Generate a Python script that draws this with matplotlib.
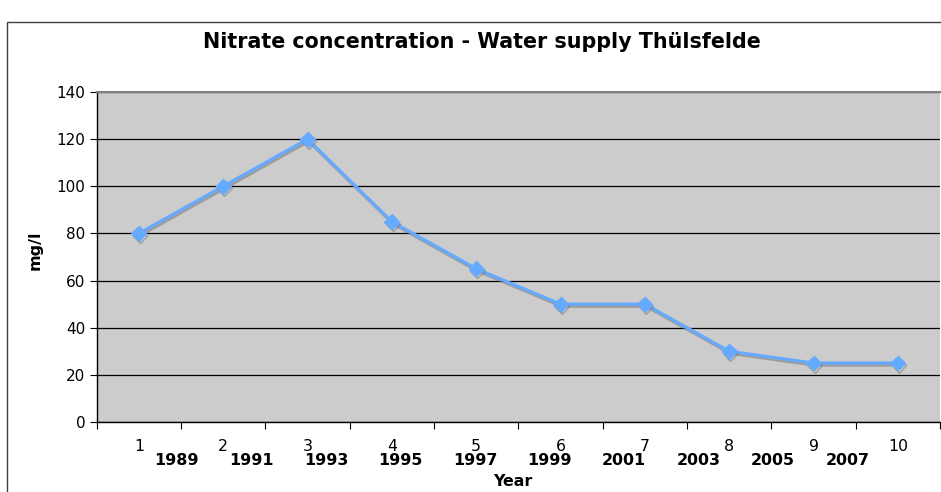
import matplotlib
matplotlib.use("Agg")
import matplotlib.pyplot as plt
import matplotlib.patheffects as pe
from matplotlib.patches import Rectangle
from matplotlib.transforms import blended_transform_factory

plt.rcParams["font.family"] = ["DejaVu Sans"]

# data
categories = [1, 2, 3, 4, 5, 6, 7, 8, 9, 10]
nitrate = [80, 100, 120, 85, 65, 50, 50, 30, 25, 25]
years = ["1989", "1991", "1993", "1995", "1997", "1999", "2001", "2003", "2005", "2007"]

W, H = 941, 492
fig = plt.figure(figsize=(W / 100, H / 100), dpi=100)

# chart-area frame (runs off the right and bottom of the picture)
fig.patches.append(Rectangle((7 / W, -0.05), 1.1, 1 - 22 / H + 0.05,
                             transform=fig.transFigure, fill=False,
                             edgecolor="#404040", lw=1.0))

ax = fig.add_axes([96.7 / W, 70 / H, (940 - 96.7) / W, 330 / H])
ax.set_facecolor("#cccccc")

ax.plot(categories, nitrate, color="#66aaff", lw=2.3, marker="D", ms=7.5,
        solid_joinstyle="miter", zorder=3,
        path_effects=[pe.SimpleLineShadow(offset=(0.8, -1.5), shadow_color="#777777",
                                          alpha=0.55), pe.Normal()])

ax.set_xlim(0.5, len(categories) + 0.5)
ax.set_ylim(0, 140)
ax.set_yticks(range(0, 141, 20))
ax.grid(axis="y", color="black", lw=0.9)
ax.set_axisbelow(True)

# category axis: ticks on the boundaries, labels in the middle
ax.set_xticks([c - 0.5 for c in categories] + [categories[-1] + 0.5])
ax.set_xticklabels([])
ax.set_xticks(categories, minor=True)
ax.set_xticklabels([str(c) for c in categories], minor=True, fontsize=11.3)
ax.tick_params(axis="x", which="major", direction="out", length=5, width=0.8)
ax.tick_params(axis="x", which="minor", length=0, pad=12)
ax.tick_params(axis="y", direction="out", length=5, width=0.8, labelsize=11, pad=3)

for s in ["left", "bottom"]:
    ax.spines[s].set_color("black")
    ax.spines[s].set_linewidth(1.0)
ax.spines["top"].set_color("#808080")
ax.spines["top"].set_linewidth(1.5)
ax.spines["right"].set_visible(False)

# year labels typed under the category numbers
tr = blended_transform_factory(ax.transData, ax.transAxes)
for i, y in enumerate(years):
    ax.text(1.45 + 0.884 * i, -0.118, y, transform=tr, ha="center", va="center",
            fontsize=11.4, fontweight="bold")

fig.text(481.5 / W, 1 - 42 / H, "Nitrate concentration - Water supply Thülsfelde",
         ha="center", va="center", fontsize=14.9, fontweight="bold")
fig.text(35 / W, 1 - 250 / H, "mg/l", rotation=90, ha="center", va="center",
         fontsize=11.5, fontweight="bold")
fig.text(513 / W, 1 - 481 / H, "Year", ha="center", va="center",
         fontsize=11.4, fontweight="bold")

fig.savefig("out.png", dpi=100)
